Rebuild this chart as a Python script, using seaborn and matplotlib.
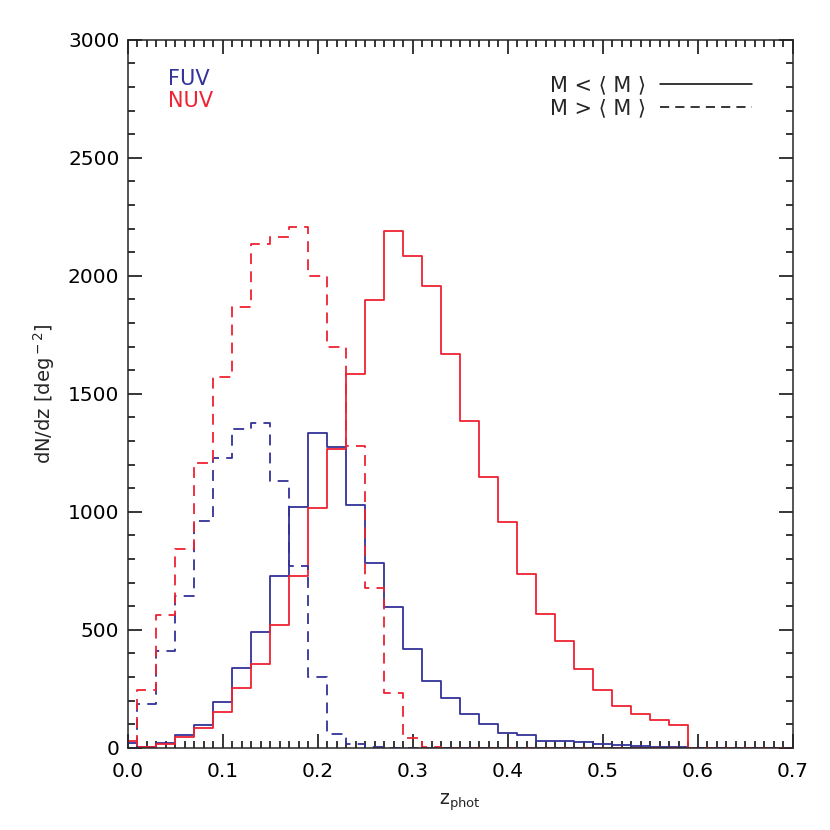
import numpy as np
import pandas as pd
import matplotlib
matplotlib.use("Agg")
import matplotlib.pyplot as plt
import seaborn as sns
from matplotlib.lines import Line2D
from matplotlib.ticker import MultipleLocator, FormatStrFormatter

# bin centres of the photo-z histograms (width 0.02)
z_centers = np.round(np.arange(0.0, 0.72, 0.02), 2)
bin_edges = list(np.round(np.arange(-0.01, 0.72, 0.02), 2))

# dN/dz [deg^-2]
nuv_lo = [30, 5, 15, 45, 85, 150, 255, 355, 521, 729, 1018, 1266, 1582, 1898, 2188,
          2085, 1958, 1667, 1383, 1148, 958, 738, 567, 453, 336, 245, 177, 142, 117, 95,
          0, 0, 0, 0, 0, 0]
fuv_lo = [20, 5, 20, 55, 95, 195, 340, 490, 730, 1022, 1333, 1273, 1028, 783, 596,
          417, 283, 212, 142, 102, 64, 53, 27, 30, 23, 18, 12, 8, 5, 3,
          0, 0, 0, 0, 0, 0]
nuv_hi = [10, 243, 562, 842, 1206, 1573, 1870, 2136, 2164, 2206, 2000, 1700, 1280, 678, 232,
          40, 3, 0, 0, 0, 0, 0, 0, 0, 0, 0, 0, 0, 0, 0,
          0, 0, 0, 0, 0, 0]
fuv_hi = [5, 186, 412, 645, 963, 1227, 1351, 1376, 1131, 772, 302, 58, 15, 5, 0,
          0, 0, 0, 0, 0, 0, 0, 0, 0, 0, 0, 0, 0, 0, 0,
          0, 0, 0, 0, 0, 0]

blue = "#333399"
red = "#ee2233"

sns.set_style("ticks")
plt.rcParams['font.family'] = ['DejaVu Sans']
plt.rcParams['mathtext.fontset'] = 'dejavusans'

fig = plt.figure(figsize=(8.3, 8.3), dpi=100)
ax = fig.add_axes([0.154, 0.099, 0.801, 0.853])

series = [(fuv_lo, blue, '-'), (nuv_lo, red, '-'),
          (fuv_hi, blue, (0, (6, 4))), (nuv_hi, red, (0, (6, 4)))]
for vals, col, ls in series:
    df = pd.DataFrame({'z': z_centers, 'n': vals})
    sns.histplot(data=df, x='z', weights='n', bins=bin_edges, element='step',
                 fill=False, color=col, linestyle=ls, linewidth=1.3, ax=ax)

ax.set_xlim(0, 0.7)
ax.set_ylim(0, 3000)
ax.xaxis.set_major_locator(MultipleLocator(0.1))
ax.xaxis.set_minor_locator(MultipleLocator(0.01))
ax.yaxis.set_major_locator(MultipleLocator(500))
ax.yaxis.set_minor_locator(MultipleLocator(100))
ax.xaxis.set_major_formatter(FormatStrFormatter('%.1f'))
ax.tick_params(which='both', direction='in', top=True, right=True, width=1.1,
               labelsize=14.5, colors='black')
ax.tick_params(which='major', length=10)
ax.tick_params(which='minor', length=5)
ax.tick_params(axis='x', pad=10)
ax.tick_params(axis='y', pad=6)
for sp in ax.spines.values():
    sp.set_visible(True)
    sp.set_linewidth(1.1)

ax.set_xlabel(r'z$_{\rm phot}$', fontsize=13.5, labelpad=8)
ax.set_ylabel(r'dN/dz [deg$^{\rm -2}$]', fontsize=14, labelpad=8)

ax.text(0.060, 0.9364, 'FUV', color=blue, fontsize=15, va='baseline',
        transform=ax.transAxes)
ax.text(0.060, 0.9054, 'NUV', color=red, fontsize=15, va='baseline',
        transform=ax.transAxes)

handles = [Line2D([], [], color='black', lw=1.1, ls='-'),
           Line2D([], [], color='black', lw=1.1, ls=(0, (6, 4)))]
labels = ['M < \u27e8 M \u27e9', 'M > \u27e8 M \u27e9']
ax.legend(handles, labels, loc='upper right', bbox_to_anchor=(0.967, 0.977),
          frameon=False, markerfirst=False, fontsize=15, handlelength=4.4,
          handletextpad=0.7, labelspacing=0.15)

fig.savefig('out.png', dpi=100)
